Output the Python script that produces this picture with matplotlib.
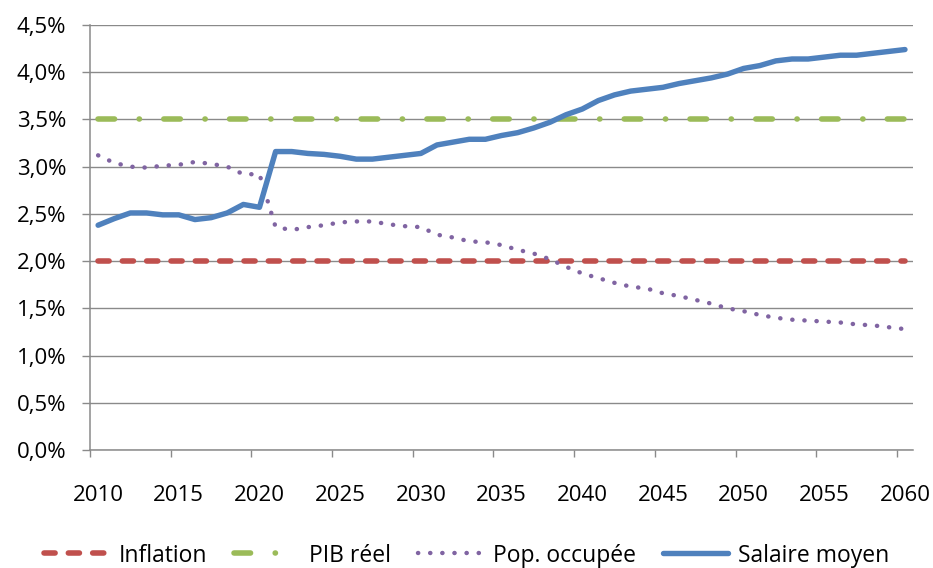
import matplotlib
matplotlib.use("Agg")
import matplotlib.pyplot as plt
from matplotlib.ticker import FuncFormatter, MultipleLocator

plt.rcParams['font.family'] = ['Open Sans', 'DejaVu Sans']
plt.rcParams['font.size'] = 16

# données (en %)
years = list(range(2010, 2061))

inflation = [2.0] * len(years)
pib_reel = [3.5] * len(years)

pop_occupee = [
    3.12, 3.04, 3.00, 2.99, 3.01, 3.02, 3.05, 3.03, 3.00, 2.92,
    2.92, 2.36, 2.33, 2.36, 2.38, 2.41, 2.42, 2.42, 2.39, 2.37,
    2.36, 2.28, 2.25, 2.21, 2.20, 2.17, 2.12, 2.08, 2.02, 1.94,
    1.87, 1.82, 1.77, 1.73, 1.71, 1.66, 1.63, 1.59, 1.55, 1.50,
    1.47, 1.43, 1.40, 1.38, 1.37, 1.36, 1.35, 1.33, 1.32, 1.30,
    1.28,
]

salaire_moyen = [
    2.38, 2.45, 2.51, 2.51, 2.49, 2.49, 2.44, 2.46, 2.51, 2.60,
    2.57, 3.16, 3.16, 3.14, 3.13, 3.11, 3.08, 3.08, 3.10, 3.12,
    3.14, 3.23, 3.26, 3.29, 3.29, 3.33, 3.36, 3.41, 3.47, 3.55,
    3.61, 3.70, 3.76, 3.80, 3.82, 3.84, 3.88, 3.91, 3.94, 3.98,
    4.04, 4.07, 4.12, 4.14, 4.14, 4.16, 4.18, 4.18, 4.20, 4.22,
    4.24,
]

grey = '#8a8a8a'

fig = plt.figure(figsize=(9.33, 5.68), dpi=100)
ax = fig.add_axes([0.0965, 0.2077, 0.8821, 0.7483])

ax.plot(years, inflation, color='#C0504D', lw=4.0, dashes=(2.0, 2.38),
        dash_capstyle='round', label='Inflation')
ax.plot(years, pib_reel, color='#9BBB59', lw=4.0, dashes=(2.98, 4.43, 0.05, 4.38),
        dash_capstyle='round', label='PIB réel')
ax.plot(years, pop_occupee, color='#8064A2', lw=3.2, dashes=(0.05, 2.68),
        dash_capstyle='round', label='Pop. occupée')
ax.plot(years, salaire_moyen, color='#4F81BD', lw=3.9,
        solid_capstyle='round', solid_joinstyle='round', label='Salaire moyen')

# axes
ax.set_xlim(2009.5, 2060.5)
ax.set_ylim(0, 4.5)
ax.yaxis.set_major_locator(MultipleLocator(0.5))
ax.yaxis.set_major_formatter(FuncFormatter(lambda v, p: f"{v:.1f}%".replace('.', ',')))
ax.set_xticks(range(2010, 2061, 5))
ax.set_xticks([y - 0.5 for y in range(2010, 2061, 5)], minor=True)

ax.grid(axis='y', color=grey, lw=1.0)
ax.set_axisbelow(True)
for side in ['top', 'right']:
    ax.spines[side].set_visible(False)
for side in ['left', 'bottom']:
    ax.spines[side].set_color(grey)
    ax.spines[side].set_linewidth(1.1)

ax.tick_params(axis='y', direction='out', length=6, width=1, color=grey, pad=11)
ax.tick_params(axis='x', which='major', length=0, pad=25)
ax.tick_params(axis='x', which='minor', direction='out', length=5, width=1, color=grey)

fig.legend(loc='center', bbox_to_anchor=(0.5, 0.022), ncol=4, frameon=False,
           handlelength=2.8, handletextpad=0.45, columnspacing=1.2, fontsize=16.5)

fig.savefig('out.png', dpi=100)
